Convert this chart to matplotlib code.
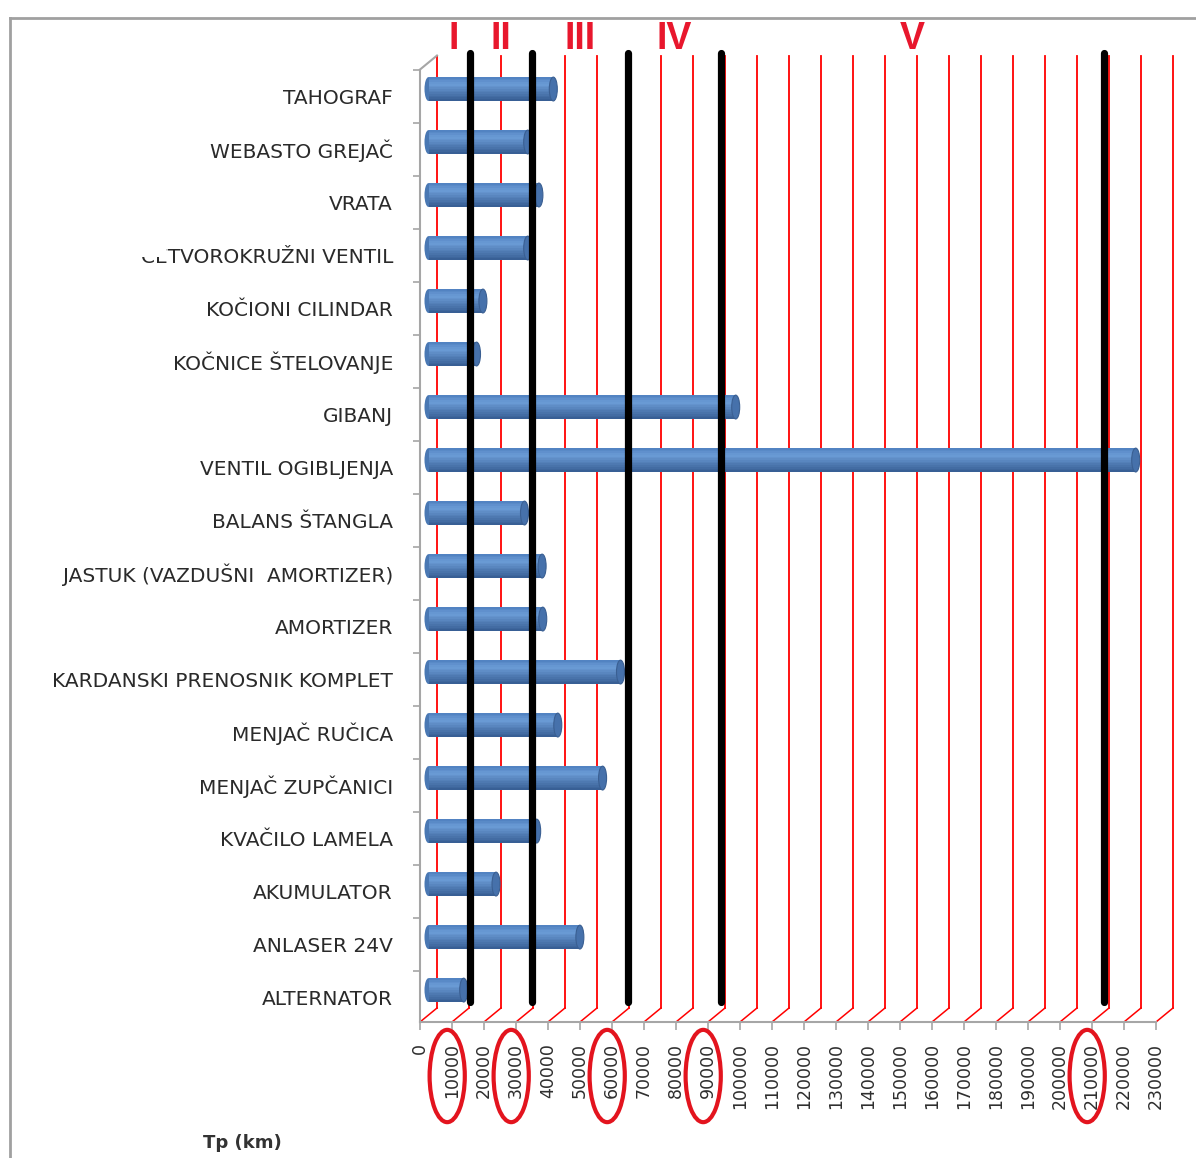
import numpy as np
import matplotlib
matplotlib.use("Agg")
import matplotlib.pyplot as plt
from matplotlib.patches import Ellipse, Rectangle
from matplotlib.lines import Line2D
from matplotlib.transforms import offset_copy, IdentityTransform, blended_transform_factory

# categories from top to bottom
categories = ["TAHOGRAF", "WEBASTO GREJAČ", "VRATA", "ČETVOROKRUŽNI VENTIL",
              "KOČIONI CILINDAR", "KOČNICE ŠTELOVANJE", "GIBANJ", "VENTIL OGIBLJENJA",
              "BALANS ŠTANGLA", "JASTUK (VAZDUŠNI  AMORTIZER)", "AMORTIZER",
              "KARDANSKI PRENOSNIK KOMPLET", "MENJAČ RUČICA", "MENJAČ ZUPČANICI",
              "KVAČILO LAMELA", "AKUMULATOR", "ANLASER 24V", "ALTERNATOR"]
tp_km = [39000, 31000, 34500, 31000, 17000, 15000, 96000, 221000, 30000,
         35500, 35700, 60000, 40400, 54400, 33800, 21100, 47300, 11000]
x_ticks = list(range(0, 230001, 10000))
# hand drawn zone borders (black lines) and their names
zone_borders = [10300, 29700, 59700, 88800, 208400]
zone_names = ["I", "II", "III", "IV", "V"]
circled_ticks = [10000, 30000, 60000, 90000, 210000]

W, H = 1196, 1158
fig = plt.figure(figsize=(W / 100, H / 100), dpi=100)
ax = fig.add_axes([420 / W, (H - 1022) / H, (1180 - 420) / W, (1022 - 40) / H])
FLOOR = 17.47
ax.set_xlim(0, 237500)
ax.set_ylim(FLOOR, -1.057)
rows = np.arange(len(categories))

# 3D depth: back wall and bar plane shifted up/right
back_tr = offset_copy(ax.transData, fig=fig, x=17, y=14, units="dots")
bar_tr = offset_copy(ax.transData, fig=fig, x=8.5, y=7, units="dots")

# spines / axes
for s in ["top", "right"]:
    ax.spines[s].set_visible(False)
ax.spines["bottom"].set_bounds(0, 230000)
ax.spines["left"].set_bounds(-0.5, FLOOR)
for s in ["bottom", "left"]:
    ax.spines[s].set_color("#a6a6a6")
    ax.spines[s].set_linewidth(1.5)

ax.set_xticks(x_ticks, labels=[str(v) for v in x_ticks], rotation=90,
              fontsize=12.5, color="#2e2e2e")
ax.tick_params(axis="x", length=6, width=1.2, color="#a6a6a6", pad=9)
ax.set_yticks(rows, labels=categories, fontsize=14.5, color="#2a2a2a")
ax.set_yticks(np.arange(-0.5, 17.0, 1), minor=True)
ax.tick_params(axis="y", which="major", length=0, pad=19.5)
ax.tick_params(axis="y", which="minor", length=5, width=1.2, color="#a6a6a6")

# left wall top edge
p0 = ax.transData.transform((0, -0.5))
p1 = back_tr.transform((0, -0.5))
ax.add_line(Line2D([p0[0], p1[0]], [p0[1], p1[1]], transform=IdentityTransform(),
                   color="#a6a6a6", lw=1.5, clip_on=False))

# red gridlines on the back wall, with slanted floor segment
for v in x_ticks:
    ax.plot([v, v], [FLOOR, -0.5], color="#ff0000", lw=1.3, transform=back_tr,
            zorder=1, clip_on=False)
    p0 = ax.transData.transform((v, FLOOR))
    p1 = back_tr.transform((v, FLOOR))
    ax.add_line(Line2D([p0[0], p1[0]], [p0[1], p1[1]], transform=IdentityTransform(),
                       color="#ff0000", lw=1.1, zorder=1, clip_on=False))

# cylinder bars
bh = 0.45
n = 14
stops = [0.0, 0.3, 1.0]
cols = np.array([[0.31, 0.50, 0.75], [0.42, 0.61, 0.84], [0.21, 0.36, 0.57]])
for k in range(n):
    t = (k + 0.5) / n
    c = [np.interp(t, stops, cols[:, j]) for j in range(3)]
    yk = rows - bh / 2 + (k + 0.5) * bh / n
    ax.barh(yk, tp_km, height=bh / n + 0.002, color=c, linewidth=0,
            transform=bar_tr, zorder=3)
for i, v in enumerate(tp_km):
    ax.add_patch(Ellipse((0, i), 2500, bh, facecolor="#4a78b3", edgecolor="none",
                         transform=bar_tr, zorder=2.9))
    ax.add_patch(Ellipse((v, i), 2500, bh, facecolor="#4671ab", edgecolor="#3a5f92",
                         lw=0.8, transform=bar_tr, zorder=3.1))

# hand drawn zone borders
for b in zone_borders:
    ax.plot([b, b], [17.35, -0.55], color="black", lw=5.2, solid_capstyle="round",
            transform=back_tr, zorder=5, clip_on=False)
edges = [0] + zone_borders
for name, a, b in zip(zone_names, edges[:-1], edges[1:]):
    ax.text((a + b) / 2, -0.82, name, transform=back_tr, color="#e8172d",
            fontsize=27, fontweight="bold", family="Liberation Sans",
            ha="center", va="center", clip_on=False)

# red rings around tick labels
ring_tr = blended_transform_factory(ax.transData, ax.transAxes)
for v in circled_ticks:
    ax.add_patch(Ellipse((v - 1500, -0.055), 11000, 0.094, facecolor="none",
                         edgecolor="#e3141e", lw=3, transform=ring_tr, clip_on=False,
                         zorder=6))

# top of the first letters of one label is hidden in the original
fig.canvas.draw()
lab = ax.get_yticklabels()[3]
bb = lab.get_window_extent()
yc = ax.transData.transform((0, 3))[1]
fig.add_artist(Rectangle((bb.x0 - 3, yc - 1.5), 28, 20, transform=IdentityTransform(),
                         facecolor="white", edgecolor="none", zorder=10))

# chart frame
fig.add_artist(Line2D([10 / W, 1], [1 - 18 / H, 1 - 18 / H], color="#a0a0a0", lw=2))
fig.add_artist(Line2D([10 / W, 10 / W], [0, 1 - 18 / H], color="#a0a0a0", lw=2))

fig.text(242 / W, 1 - 1143 / H, "Tp (km)", fontsize=13, fontweight="bold",
         color="#333333", ha="center", va="center")

fig.savefig("out.png", dpi=100)
